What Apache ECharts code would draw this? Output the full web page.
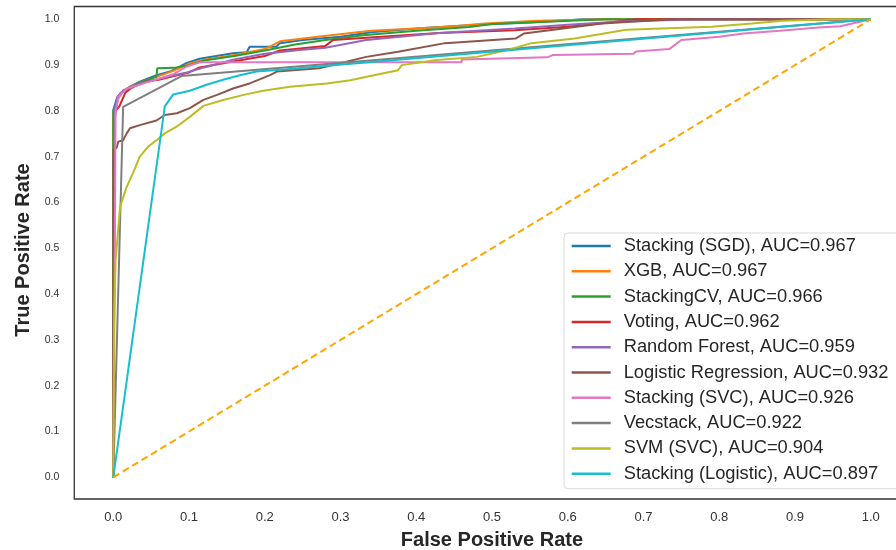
<!DOCTYPE html>
<html>
<head>
<meta charset="utf-8">
<script src="https://cdn.jsdelivr.net/npm/echarts@6/dist/echarts.min.js"></script>
<style>
  html, body { margin: 0; padding: 0; background: #fff; }
  #chart { width: 896px; height: 550px; }
</style>
</head>
<body>
<div id="chart"></div>
<script>
// ROC curves, [fpr, tpr] pairs
var names = [
  'Stacking (SGD), AUC=0.967',
  'XGB, AUC=0.967',
  'StackingCV, AUC=0.966',
  'Voting, AUC=0.962',
  'Random Forest, AUC=0.959',
  'Logistic Regression, AUC=0.932',
  'Stacking (SVC), AUC=0.926',
  'Vecstack, AUC=0.922',
  'SVM (SVC), AUC=0.904',
  'Stacking (Logistic), AUC=0.897'
]
var colors = ['#1f77b4', '#ff7f0e', '#2ca02c', '#d62728', '#9467bd',
  '#8c564b', '#e377c2', '#7f7f7f', '#bcbd22', '#17becf']

var sgd = [[0,0],[0,0.802],[0.004,0.824],[0.009,0.838],[0.022,0.853],[0.035,0.864],[0.057,0.878],[0.075,0.886],[0.097,0.905],[0.114,0.914],[0.158,0.926],[0.176,0.928],[0.18,0.94],[0.215,0.94],[0.22,0.948],[0.25,0.955],[0.3,0.962],[0.34,0.972],[0.4,0.98],[0.48,0.988],[0.55,0.993],[0.6,0.998],[0.62,1],[1,1]]
var xgb = [[0,0],[0,0.79],[0.003,0.8],[0.006,0.825],[0.012,0.842],[0.025,0.855],[0.04,0.865],[0.06,0.876],[0.08,0.888],[0.1,0.903],[0.12,0.912],[0.16,0.922],[0.2,0.935],[0.22,0.952],[0.27,0.962],[0.34,0.975],[0.4,0.98],[0.45,0.985],[0.49,0.991],[0.56,0.997],[0.65,1],[1,1]]
var stackCV = [[0,0],[0,0.8],[0.004,0.81],[0.006,0.83],[0.015,0.845],[0.03,0.858],[0.045,0.868],[0.057,0.875],[0.058,0.893],[0.08,0.894],[0.1,0.9],[0.12,0.91],[0.16,0.92],[0.2,0.932],[0.24,0.945],[0.28,0.955],[0.33,0.965],[0.4,0.975],[0.47,0.983],[0.5,0.99],[0.58,0.995],[0.65,1],[1,1]]
var voting = [[0,0],[0.002,0.78],[0.003,0.8],[0.008,0.81],[0.012,0.825],[0.016,0.84],[0.022,0.848],[0.03,0.855],[0.045,0.865],[0.06,0.868],[0.08,0.876],[0.1,0.884],[0.114,0.895],[0.158,0.908],[0.2,0.92],[0.22,0.932],[0.28,0.942],[0.29,0.955],[0.334,0.96],[0.43,0.97],[0.53,0.976],[0.6,0.984],[0.655,0.993],[0.69,1],[1,1]]
var forest = [[0,0],[0.001,0.5],[0.002,0.8],[0.005,0.83],[0.013,0.845],[0.04,0.862],[0.07,0.874],[0.097,0.884],[0.12,0.895],[0.158,0.912],[0.2,0.925],[0.246,0.933],[0.28,0.938],[0.334,0.955],[0.43,0.97],[0.53,0.98],[0.6,0.988],[0.67,0.995],[0.77,1],[1,1]]
var logreg = [[0,0],[0,0.715],[0.0045,0.72],[0.0066,0.733],[0.013,0.736],[0.0177,0.751],[0.022,0.762],[0.035,0.769],[0.057,0.779],[0.068,0.791],[0.084,0.795],[0.101,0.806],[0.119,0.824],[0.137,0.835],[0.158,0.849],[0.18,0.86],[0.207,0.878],[0.216,0.886],[0.272,0.893],[0.334,0.918],[0.376,0.929],[0.438,0.948],[0.531,0.958],[0.542,0.969],[0.594,0.98],[0.645,0.991],[0.739,1],[1,1]]
var stackSVC = [[0,0],[0.002,0.5],[0.003,0.8],[0.007,0.831],[0.018,0.849],[0.048,0.864],[0.079,0.88],[0.097,0.897],[0.114,0.906],[0.46,0.906],[0.46,0.912],[0.573,0.917],[0.58,0.922],[0.687,0.925],[0.69,0.93],[0.734,0.935],[0.75,0.955],[0.8,0.962],[0.832,0.969],[0.88,0.975],[0.931,0.982],[0.96,0.985],[1,1]]
var vecstack = [[0,0],[0.013,0.809],[0.09,0.876],[1,1]]
var svm = [[0,0],[0.001,0.34],[0.003,0.474],[0.009,0.591],[0.0177,0.634],[0.026,0.664],[0.035,0.7],[0.046,0.722],[0.057,0.736],[0.068,0.751],[0.084,0.766],[0.101,0.787],[0.119,0.811],[0.145,0.824],[0.172,0.835],[0.198,0.844],[0.233,0.853],[0.282,0.86],[0.313,0.867],[0.344,0.878],[0.376,0.889],[0.381,0.9],[0.427,0.911],[0.48,0.918],[0.521,0.933],[0.552,0.948],[0.609,0.958],[0.677,0.977],[0.79,0.984],[0.843,0.991],[0.884,0.997],[0.95,1],[1,1]]
var stackLog = [[0,0],[0.068,0.81],[0.079,0.836],[0.101,0.844],[0.123,0.857],[0.145,0.868],[0.167,0.878],[0.189,0.886],[0.229,0.891],[1,1]]
var chance = [[0,0],[1,1]]

var ticks = [0, 0.1, 0.2, 0.3, 0.4, 0.5, 0.6, 0.7, 0.8, 0.9, 1.0]

var curves = [sgd, xgb, stackCV, voting, forest, logreg, stackSVC, vecstack, svm, stackLog]

var chart = echarts.init(document.getElementById('chart'))

var series = curves.map(function (d, i) {
  return {
    name: names[i],
    type: 'line',
    data: d,
    showSymbol: false,
    symbol: 'none',
    color: colors[i],
    lineStyle: { width: 2, color: colors[i] }
  }
})
series.push({
  name: 'chance',
  type: 'line',
  data: chance,
  showSymbol: false,
  symbol: 'none',
  lineStyle: { width: 2, color: '#ffa500', type: [7, 4] }
})

var option = {
  animation: false,
  backgroundColor: '#fff',
  grid: {
    left: 74.3, top: 6.5, bottom: 51, right: -12.6,
    outerBoundsMode: 'none',
    show: true, borderColor: '#333', borderWidth: 1.3, backgroundColor: 'transparent'
  },
  xAxis: {
    type: 'value',
    min: -0.0515,
    max: 1.05,
    axisLine: { show: false },
    axisTick: { show: false },
    splitLine: { show: false },
    axisLabel: {
      customValues: ticks,
      formatter: function (v) { return v.toFixed(1) },
      fontFamily: 'Liberation Sans',
      fontSize: 13,
      color: '#333',
      margin: 12
    }
  },
  yAxis: {
    type: 'value',
    min: -0.0474,
    max: 1.028,
    axisLine: { show: false },
    axisTick: { show: false },
    splitLine: { show: false },
    axisLabel: {
      customValues: ticks,
      formatter: function (v) { return v.toFixed(1) },
      fontFamily: 'Liberation Sans',
      fontSize: 10.5,
      color: '#333',
      margin: 15
    }
  },
  legend: {
    data: names,
    orient: 'vertical',
    left: 564,
    top: 233,
    padding: [3, 40, 5, 7.7],
    itemGap: 5.3,
    itemWidth: 39,
    itemHeight: 2.5,
    icon: 'rect',
    backgroundColor: 'rgba(255,255,255,0.8)',
    borderColor: '#d9d9d9',
    borderWidth: 1,
    borderRadius: 4,
    textStyle: {
      fontFamily: 'Liberation Sans',
      fontSize: 18.3,
      lineHeight: 20,
      color: '#262626',
      padding: [0, 0, 0, 8]
    }
  },
  graphic: [
    {
      type: 'text',
      x: 492, y: 540,
      style: {
        text: 'False Positive Rate',
        font: 'bold 20px "Liberation Sans"',
        fill: '#262626',
        align: 'center',
        verticalAlign: 'middle'
      }
    },
    {
      type: 'text',
      x: 23.5, y: 250,
      rotation: Math.PI / 2,
      style: {
        text: 'True Positive Rate',
        font: 'bold 20px "Liberation Sans"',
        fill: '#262626',
        align: 'center',
        verticalAlign: 'middle'
      }
    }
  ],
  series: series
}

chart.setOption(option)
</script>
</body>
</html>
